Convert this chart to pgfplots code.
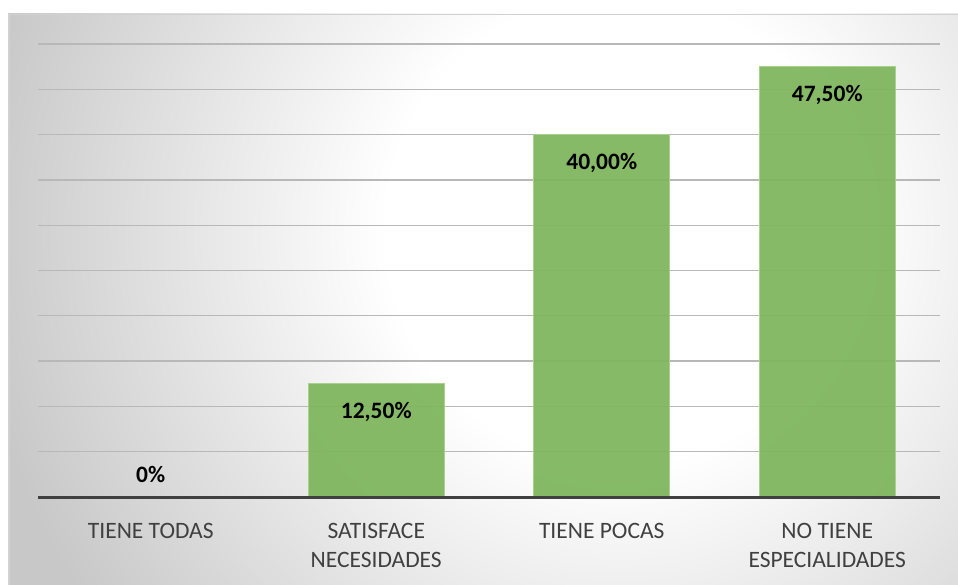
\documentclass[border=0pt]{standalone}
\usepackage{pgfplots}
\pgfplotsset{compat=1.18}
\usepackage{fontspec}
\setmainfont{Carlito}
\definecolor{barfill}{HTML}{7DB55B}
\definecolor{baredge}{HTML}{A9D18E}
\definecolor{bggray}{HTML}{C8C8C8}
\definecolor{labgray}{HTML}{404040}
\pgfdeclareradialshading{chartbg}{\pgfpoint{0bp}{0bp}}{color(0bp)=(white); color(9bp)=(white); color(25bp)=(bggray); color(50bp)=(bggray)}
\begin{document}
\begin{tikzpicture}
\useasboundingbox (0pt,0pt) rectangle (958pt,584pt);
% chart area background
\begin{scope}
\clip (8pt,-4pt) rectangle (962pt,570pt);
\fill[bggray] (8pt,-4pt) rectangle (962pt,570pt);
\shade[shading=chartbg] (620pt,354pt) circle (650pt);
\end{scope}
\draw[line width=1.5pt, black!18] (8.75pt,-4pt) -- (8.75pt,569.25pt) -- (962pt,569.25pt);
\begin{axis}[
    at={(38pt,87pt)}, anchor=south west,
    scale only axis, width=902pt, height=453pt,
    xmin=-0.5, xmax=3.5, ymin=0, ymax=50,
    ybar, bar width=0.603,
    axis line style={draw=none},
    xtick={0,1,2,3},
    xticklabels={TIENE TODAS,{SATISFACE\\NECESIDADES},TIENE POCAS,{NO TIENE\\ESPECIALIDADES}},
    xticklabel style={align=center, anchor=north, text=labgray, inner sep=0pt,
        font=\fontsize{23.5}{29}\selectfont, yshift=-22pt},
    xtick style={draw=none},
    ytick={5,10,...,50}, yticklabels={},
    ytick style={draw=none},
    ymajorgrids,
    major grid style={line width=1.3pt, black!28},
    clip=false,
]
\addplot[fill=barfill, fill opacity=0.93, draw=baredge, line width=1pt,
    nodes near coords, point meta=explicit symbolic,
    visualization depends on={rawy \as \rawy},
    every node near coord/.append style={anchor=center, text=black, text opacity=1,
        font=\fontsize{23.5}{29}\selectfont\bfseries,
        yshift={(\rawy>0) ? -28 : 23}}]
coordinates {(0,0) [0\%] (1,12.5) [12,50\%] (2,40) [40,00\%] (3,47.5) [47,50\%]};
% category axis line
\draw[line width=3pt, labgray] (axis cs:-0.5,0) -- (axis cs:3.5,0);
\end{axis}
\end{tikzpicture}
\end{document}
